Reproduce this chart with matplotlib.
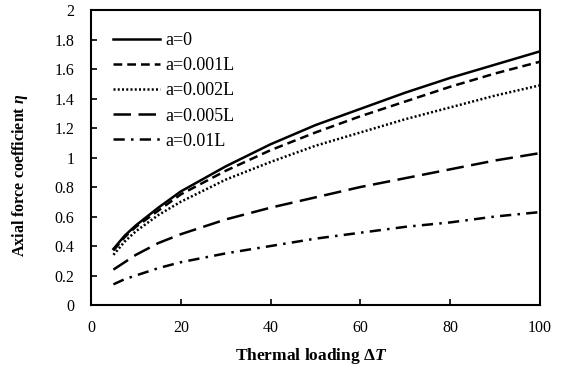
import matplotlib
matplotlib.use('Agg')
import matplotlib.pyplot as plt

# 数据
x = [5, 7.5, 10, 15, 20, 30, 40, 50, 60, 70, 80, 90, 100]
a0 = [0.38, 0.47, 0.54, 0.66, 0.77, 0.94, 1.09, 1.22, 1.33, 1.44, 1.54, 1.63, 1.72]
a0001 = [0.37, 0.46, 0.53, 0.64, 0.75, 0.91, 1.05, 1.17, 1.28, 1.38, 1.48, 1.57, 1.65]
a0002 = [0.34, 0.43, 0.50, 0.61, 0.70, 0.85, 0.97, 1.08, 1.17, 1.26, 1.34, 1.42, 1.49]
a0005 = [0.24, 0.29, 0.34, 0.42, 0.48, 0.58, 0.66, 0.73, 0.80, 0.86, 0.92, 0.98, 1.03]
a001 = [0.14, 0.175, 0.20, 0.25, 0.29, 0.35, 0.40, 0.45, 0.49, 0.53, 0.56, 0.60, 0.63]
labels = ['a=0', 'a=0.001L', 'a=0.002L', 'a=0.005L', 'a=0.01L']
xticks = [0, 20, 40, 60, 80, 100]
yticks = [0, 0.2, 0.4, 0.6, 0.8, 1, 1.2, 1.4, 1.6, 1.8, 2]

plt.rcParams['font.family'] = ['Liberation Serif', 'DejaVu Serif']
plt.rcParams['mathtext.fontset'] = 'custom'
plt.rcParams['mathtext.rm'] = 'Liberation Serif:bold'
plt.rcParams['mathtext.it'] = 'Liberation Serif:bold:italic'

fig = plt.figure(figsize=(5.63, 3.70), dpi=100)
ax = fig.add_axes([0.1616, 0.1757, 0.7974, 0.797])

lw = 1.8
ax.plot(x, a0, color='black', lw=lw, ls='-', label=labels[0])
ax.plot(x, a0001, color='black', lw=lw, ls=(0, (3.5, 2)), label=labels[1])
ax.plot(x, a0002, color='black', lw=lw, ls=(0, (0.8, 0.9)), label=labels[2])
ax.plot(x, a0005, color='black', lw=lw, ls=(0, (7, 3)), label=labels[3])
ax.plot(x, a001, color='black', lw=lw, ls=(0, (4.5, 2.5, 1, 2.5)), label=labels[4])

ax.set_xlim(0, 100)
ax.set_ylim(0, 2)
ax.set_xticks(xticks)
ax.set_yticks(yticks)
ax.set_yticklabels([('%g' % v) for v in yticks])
ax.tick_params(direction='in', labelsize=11.5, length=4, width=1.2)
ax.tick_params(axis='x', pad=11)
ax.tick_params(axis='y', pad=12)
for s in ax.spines.values():
    s.set_linewidth(1.5)

ax.set_xlabel(r'Thermal loading $\Delta T$', fontsize=12.5, fontweight='bold')
ax.xaxis.set_label_coords(0.49, -0.14)
ax.set_ylabel(r'Axial force coefficient $\eta$', fontsize=11.5, fontweight='bold')
ax.yaxis.set_label_coords(-0.135, 0.44)

ax.legend(loc='upper left', bbox_to_anchor=(0.025, 0.962), frameon=False, fontsize=13,
          handlelength=2.6, labelspacing=0.45, handletextpad=0.3, borderaxespad=0.2)

plt.savefig('out.png', dpi=100)
